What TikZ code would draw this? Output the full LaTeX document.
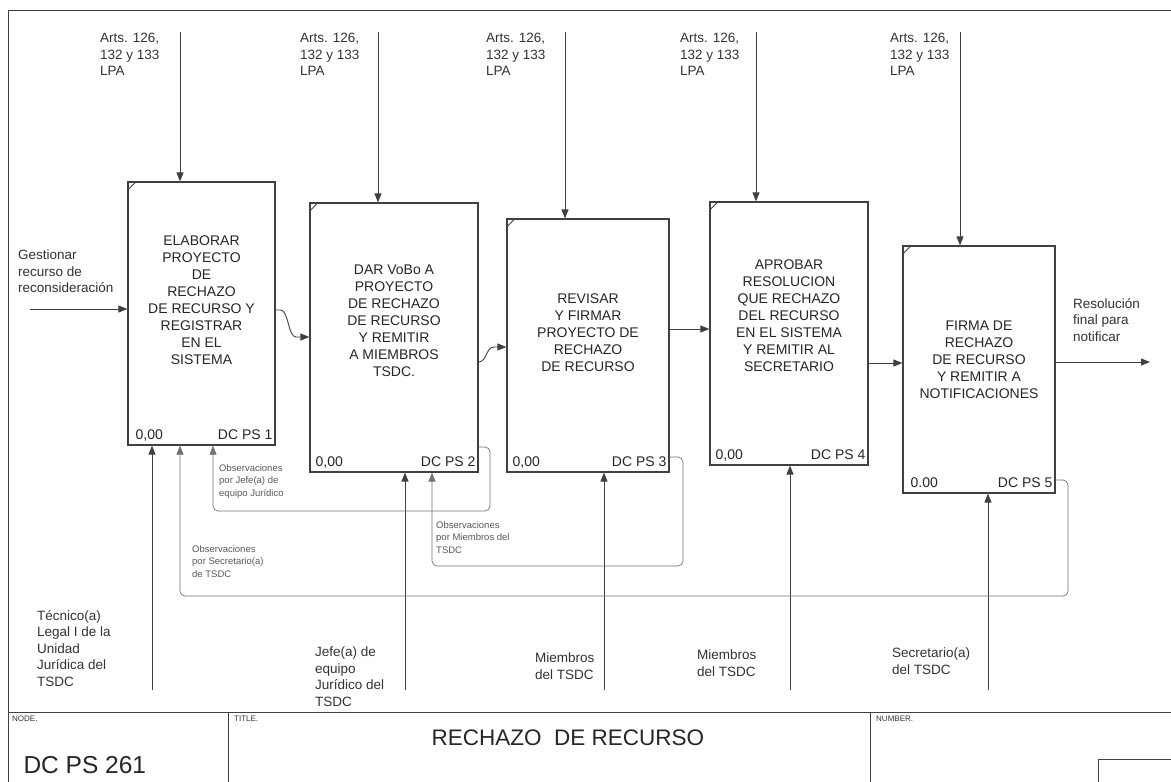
\documentclass[tikz,border=0pt]{standalone}
\usepackage{fontspec}
\setmainfont{Liberation Sans}
\usetikzlibrary{positioning,arrows.meta}
\tikzset{
    proc/.style={draw=black!75, line width=1.2pt, inner sep=0pt},
    proctext/.style={align=center, font=\fontsize{14}{17}\selectfont, text=black!85, inner sep=0pt},
    lbl/.style={align=left, font=\fontsize{13.5}{16.5}\selectfont, text=black!80, inner sep=0pt, anchor=north west},
    obs/.style={align=left, font=\fontsize{9.5}{12.5}\selectfont, text=black!65, inner sep=0pt, anchor=north west},
    code/.style={font=\fontsize{14}{15}\selectfont, text=black!85, inner sep=0pt},
    tag/.style={font=\fontsize{8}{9}\selectfont, text=black!80, inner sep=0pt, anchor=north west},
    arr/.style={draw=black!75, line width=0.9pt, -{Triangle[length=9pt,width=7pt]}},
    fb/.style={draw=black!55, line width=0.7pt, rounded corners=5pt, -{Triangle[length=9pt,width=7pt]}}
}

\begin{document}
\begin{tikzpicture}[x=1pt, y=-1pt]
    \path[fill=white, use as bounding box] (0,0) rectangle (1171,782);

    % frame and title block
    \draw[black!75, line width=1pt] (8,782) -- (8,10) -- (1171,10);
    \draw[black!75, line width=1pt] (8,712) -- (1171,712);
    \draw[black!75, line width=1pt] (228,712) -- (228,782);
    \draw[black!75, line width=1pt] (870,712) -- (870,782);
    \draw[black!75, line width=1pt] (1171,759) -- (1098,759) -- (1098,782);
    \node[tag] (nodetag) at (12,716) {NODE.};
    \node[tag] (titletag) at (234,716) {TITLE.};
    \node[tag] (numtag) at (876,716) {NUMBER.};
    \node[font=\fontsize{22.5}{24}\selectfont, text=black!85] (title) at (568,738) {RECHAZO\ \ DE RECURSO};
    \node[font=\fontsize{24.5}{26}\selectfont, text=black!85, anchor=west] (nodenum) at (20,765) {DC PS 261};

    % activity boxes
    \node[proc, minimum width=147pt, minimum height=263pt] (b1) at (201.5,313.5) {};
    \node[proc, minimum width=168pt, minimum height=269pt] (b2) at (394,337.5) {};
    \node[proc, minimum width=162pt, minimum height=253pt] (b3) at (588,345.5) {};
    \node[proc, minimum width=158pt, minimum height=263pt] (b4) at (789,333.5) {};
    \node[proc, minimum width=152pt, minimum height=247pt] (b5) at (979,369.5) {};

    \foreach \b in {b1,b2,b3,b4,b5}
        \draw[black!75, line width=0.8pt] ([yshift=-9pt]\b.north west) -- ([xshift=9pt]\b.north west);

    \node[proctext] (t1) at (201.5,300) {ELABORAR\\PROYECTO\\DE\\RECHAZO\\DE RECURSO Y\\REGISTRAR\\EN EL\\SISTEMA};
    \node[proctext] (t2) at (394,321) {DAR VoBo A\\PROYECTO\\DE RECHAZO\\DE RECURSO\\Y REMITIR\\A MIEMBROS\\TSDC.};
    \node[proctext] (t3) at (588,333) {REVISAR\\Y FIRMAR\\PROYECTO DE\\RECHAZO\\DE RECURSO};
    \node[proctext] (t4) at (789,316) {APROBAR\\RESOLUCION\\QUE RECHAZO\\DEL RECURSO\\EN EL SISTEMA\\Y REMITIR AL\\SECRETARIO};
    \node[proctext] (t5) at (979,360) {FIRMA DE\\RECHAZO\\DE RECURSO\\Y REMITIR A\\NOTIFICACIONES};

    \node[code, anchor=base west] (z1) at ([xshift=8pt,yshift=6pt]b1.south west) {0,00};
    \node[code, anchor=base east] (n1) at ([xshift=-3pt,yshift=6pt]b1.south east) {DC PS 1};
    \node[code, anchor=base west] (z2) at ([xshift=6pt,yshift=6pt]b2.south west) {0,00};
    \node[code, anchor=base east] (n2) at ([xshift=-3pt,yshift=6pt]b2.south east) {DC PS 2};
    \node[code, anchor=base west] (z3) at ([xshift=6pt,yshift=6pt]b3.south west) {0,00};
    \node[code, anchor=base east] (n3) at ([xshift=-3pt,yshift=6pt]b3.south east) {DC PS 3};
    \node[code, anchor=base west] (z4) at ([xshift=6pt,yshift=6pt]b4.south west) {0,00};
    \node[code, anchor=base east] (n4) at ([xshift=-3pt,yshift=6pt]b4.south east) {DC PS 4};
    \node[code, anchor=base west] (z5) at ([xshift=8pt,yshift=6pt]b5.south west) {0.00};
    \node[code, anchor=base east] (n5) at ([xshift=-3pt,yshift=6pt]b5.south east) {DC PS 5};

    % controls
    \coordinate (c1) at (180,32);
    \coordinate (c2) at (378,32);
    \coordinate (c3) at (565,32);
    \coordinate (c4) at (756,32);
    \coordinate (c5) at (960,32);
    \draw[arr] (c1) -- (c1 |- b1.north);
    \draw[arr] (c2) -- (c2 |- b2.north);
    \draw[arr] (c3) -- (c3 |- b3.north);
    \draw[arr] (c4) -- (c4 |- b4.north);
    \draw[arr] (c5) -- (c5 |- b5.north);
    \node[lbl] (law1) at (100,33) {Arts. 126,\\132 y 133\\LPA};
    \node[lbl] (law2) at (300,33) {Arts. 126,\\132 y 133\\LPA};
    \node[lbl] (law3) at (486,33) {Arts. 126,\\132 y 133\\LPA};
    \node[lbl] (law4) at (680,33) {Arts. 126,\\132 y 133\\LPA};
    \node[lbl] (law5) at (890,33) {Arts. 126,\\132 y 133\\LPA};

    % input and output
    \coordinate (in) at (30,309);
    \draw[arr] (in) -- (in -| b1.west);
    \node[lbl] (inlbl) at (18,250) {Gestionar\\recurso de\\reconsideración};
    \coordinate (out) at (1150,362);
    \draw[arr] (b5.east |- out) -- (out);
    \node[lbl] (outlbl) at (1073,298) {Resolución\\final para\\notificar};

    % flow between boxes
    \draw[arr] (b1.east |- 0,310) -- ++(5,0) .. controls +(8,0) and +(-8,0) .. (296,337) -- (b2.west |- 0,337);
    \draw[arr] (b2.east |- 0,362) .. controls +(8,0) and +(-8,0) .. (494,347) -- (b3.west |- 0,347);
    \draw[arr] (b3.east |- 0,329) -- (b4.west |- 0,329);
    \draw[arr] (b4.east |- 0,363) -- (b5.west |- 0,363);

    % mechanisms
    \coordinate (m1) at (152,690);
    \coordinate (m2) at (405,690);
    \coordinate (m3) at (604,690);
    \coordinate (m4) at (790,690);
    \coordinate (m5) at (988,690);
    \draw[arr] (m1) -- (m1 |- b1.south);
    \draw[arr] (m2) -- (m2 |- b2.south);
    \draw[arr] (m3) -- (m3 |- b3.south);
    \draw[arr] (m4) -- (m4 |- b4.south);
    \draw[arr] (m5) -- (m5 |- b5.south);
    \node[lbl] (who1) at (37,610) {Técnico(a)\\Legal I de la\\Unidad\\Jurídica del\\TSDC};
    \node[lbl] (who2) at (315,647) {Jefe(a) de\\equipo\\Jurídico del\\TSDC};
    \node[lbl] (who3) at (535,653) {Miembros\\del TSDC};
    \node[lbl] (who4) at (697,650) {Miembros\\del TSDC};
    \node[lbl] (who5) at (892,648) {Secretario(a)\\del TSDC};

    % feedback
    \draw[fb] (b2.east |- 0,447) -| (490,511) -| (b1.south -| 213,0);
    \draw[fb] (b3.east |- 0,457) -| (683,566) -| (b2.south -| 432,0);
    \draw[fb] (b5.east |- 0,480) -| (1068,596) -| (b1.south -| 180,0);
    \node[obs] (obs1) at (219,464) {Observaciones\\por Jefe(a) de\\equipo Jurídico};
    \node[obs] (obs2) at (436,521) {Observaciones\\por Miembros del\\TSDC};
    \node[obs] (obs3) at (192,545) {Observaciones\\por Secretario(a)\\de TSDC};
\end{tikzpicture}
\end{document}
